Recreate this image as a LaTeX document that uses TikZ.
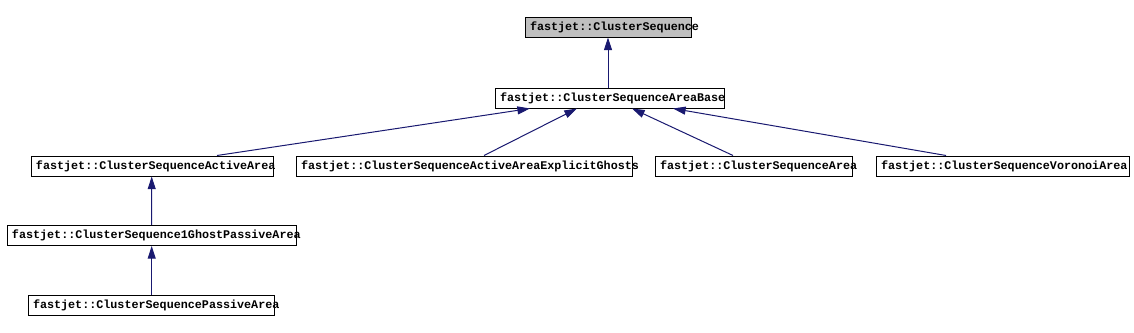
\documentclass[tikz,border=0pt]{standalone}
\usepackage{fontspec}
\setmonofont{Liberation Mono}
\usetikzlibrary{arrows.meta,calc}
\definecolor{edgeblue}{HTML}{191970}
\definecolor{rootgray}{HTML}{BFBFBF}
\tikzset{
  cls/.style={draw=black, line width=0.75pt, rectangle, minimum height=15pt,
    inner xsep=3.75pt, inner ysep=0pt, align=left,
    font=\fontsize{8.8pt}{10pt}\selectfont\ttfamily\bfseries},
  inh/.style={draw=edgeblue, line width=0.75pt,
    -{Triangle[length=9.5pt,width=6pt]}, color=edgeblue},
}
\begin{document}
\begin{tikzpicture}[x=0.75pt,y=-0.75pt]
\useasboundingbox (0,0) rectangle (1134,332);
\node[cls, fill=rootgray, text width=117pt] (cs) at (608,27) {fastjet::ClusterSequence};
\node[cls, text width=164.25pt] (base) at (609.5,98) {fastjet::ClusterSequenceAreaBase};
\node[cls, text width=174pt] (act) at (152,166) {fastjet::ClusterSequenceActiveArea};
\node[cls, text width=244.5pt] (ghost) at (464,166) {fastjet::ClusterSequenceActiveAreaExplicitGhosts};
\node[cls, text width=140.25pt] (area) at (753.5,166) {fastjet::ClusterSequenceArea};
\node[cls, text width=182.25pt] (vor) at (1002.5,166) {fastjet::ClusterSequenceVoronoiArea};
\node[cls, text width=209.25pt] (one) at (151.5,235.5) {fastjet::ClusterSequence1GhostPassiveArea};
\node[cls, text width=177pt] (pas) at (151,305.5) {fastjet::ClusterSequencePassiveArea};

\draw[inh] ($(base.north)+(-1.5,0)$) -- (cs.south);
\draw[inh] ($(act.north)+(65,0)$) -- ($(base.south)+(-79.5,0)$);
\draw[inh] ($(ghost.north)+(20,0)$) -- ($(base.south)+(-32.5,0)$);
\draw[inh] ($(area.north)+(-20.5,0)$) -- ($(base.south)+(22.5,0)$);
\draw[inh] ($(vor.north)+(-56.5,0)$) -- ($(base.south)+(63.5,0)$);
\draw[inh] ($(one.north)+(0.2,0)$) -- ($(act.south)+(-0.3,0)$);
\draw[inh] ($(pas.north)+(0.7,0)$) -- ($(one.south)+(0.2,0)$);
\end{tikzpicture}
\end{document}
